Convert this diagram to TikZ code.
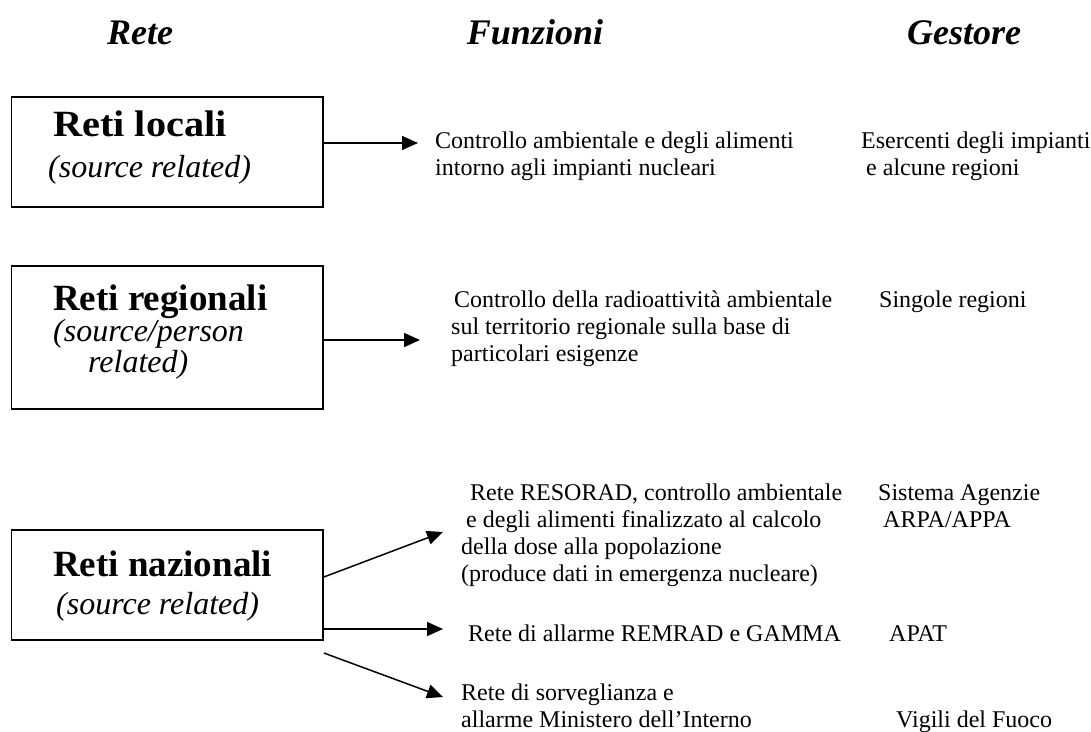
\documentclass[tikz,border=0pt]{standalone}
\usepackage{fontspec}
\setmainfont{Liberation Serif}
\usetikzlibrary{arrows.meta}
\begin{document}
\begin{tikzpicture}[x=1pt,y=-1pt,
  hdr/.style={font=\fontsize{36}{40}\selectfont\bfseries\itshape, inner sep=0pt, anchor=base},
  ttl/.style={font=\fontsize{37}{42}\selectfont\bfseries, inner sep=0pt, anchor=base west},
  sub/.style={font=\fontsize{32}{36}\selectfont\itshape, inner sep=0pt, anchor=base west},
  txt/.style={font=\fontsize{24}{27}\selectfont, inner sep=0pt, anchor=base west},
  netbox/.style={draw, line width=1.7pt, inner sep=0pt},
  conn/.style={line width=1.5pt, -{Triangle[length=16pt,width=14pt]}}]
\useasboundingbox (0,0) rectangle (1091,731);
\fill[white] (0,0) rectangle (1091,731);

% headers
\node[hdr] (hRete) at (140,44) {Rete};
\node[hdr] (hFun) at (535,44) {Funzioni};
\node[hdr] (hGes) at (964,44) {Gestore};

% boxes
\node[netbox, minimum width=311.5pt, minimum height=110pt] (b1) at (167.25,152) {};
\node[netbox, minimum width=311.5pt, minimum height=143pt] (b2) at (167.25,337.5) {};
\node[netbox, minimum width=311.5pt, minimum height=110pt] (b3) at (167.25,585) {};

% box texts
\node[ttl] (t1) at (53,136) {\scalebox{1.09}[1]{Reti locali}};
\node[sub] (s1) at (48,177) {(source related)};
\node[ttl] (t2) at (53,310) {Reti regionali};
\node[sub] (s2a) at (53,341) {(source/person};
\node[sub] (s2b) at (88,372) {related)};
\node[ttl] (t3) at (53,576) {Reti nazionali};
\node[sub] (s3) at (56,614) {(source related)};

% function texts
\node[txt] (f1) at (435,148) {\begin{tabular}[t]{@{}l@{}}Controllo ambientale e degli alimenti\\intorno agli impianti nucleari\end{tabular}};
\node[txt] (g1) at (861,148) {\begin{tabular}[t]{@{}l@{}}Esercenti degli impianti\\\hspace*{5pt}e alcune regioni\end{tabular}};

\node[txt] (f2) at (451,307) {\begin{tabular}[t]{@{}l@{}}\hspace*{3pt}Controllo della radioattività ambientale\\sul territorio regionale sulla base di\\particolari esigenze\end{tabular}};
\node[txt] (g2) at (879,307) {Singole regioni};

\node[txt] (f3) at (461,500) {\begin{tabular}[t]{@{}l@{}}\hspace*{9pt}Rete RESORAD, controllo ambientale\\\hspace*{5pt}e degli alimenti finalizzato al calcolo\\della dose alla popolazione\\(produce dati in emergenza nucleare)\end{tabular}};
\node[txt] (g3) at (878,500) {\begin{tabular}[t]{@{}l@{}}Sistema Agenzie\\\hspace*{5pt}ARPA/APPA\end{tabular}};

\node[txt] (f4) at (468,641) {Rete di allarme REMRAD e GAMMA};
\node[txt] (g4) at (889,641) {APAT};

\node[txt] (f5) at (461,700) {\begin{tabular}[t]{@{}l@{}}Rete di sorveglianza e\\allarme Ministero dell’Interno\end{tabular}};
\node[txt] (g5) at (896,727) {Vigili del Fuoco};

% arrow end points
\coordinate (e1) at (418,143);
\coordinate (e2) at (420,340);
\coordinate (e3) at (443,532);
\coordinate (e4) at (443,629);
\coordinate (e5) at (443,697);

\draw[conn] (b1.east |- e1) -- (e1);
\draw[conn] (b2.east |- e2) -- (e2);
\draw[conn] ([yshift=8pt]b3.east) -- (e3);
\draw[conn] (b3.east |- e4) -- (e4);
\draw[conn] ([yshift=-68pt]b3.east) -- (e5);
\end{tikzpicture}
\end{document}
